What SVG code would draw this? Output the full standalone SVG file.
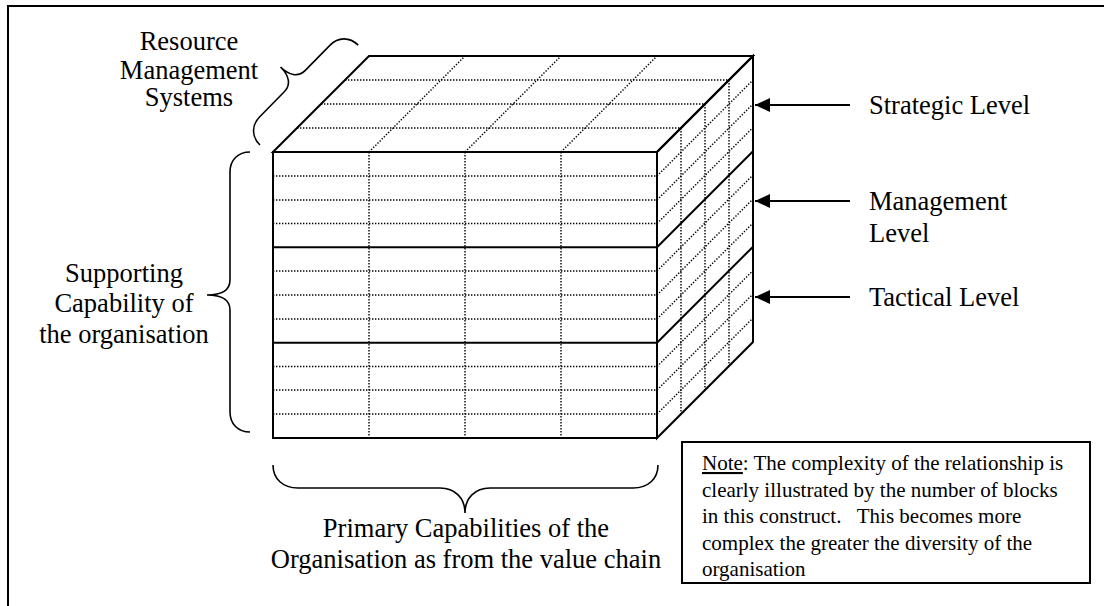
<svg xmlns="http://www.w3.org/2000/svg" width="1104" height="606" viewBox="0 0 1104 606">
<defs>
<style>
.solid{fill:none;stroke:#000;stroke-width:2;stroke-linejoin:miter}
.dot{fill:none;stroke:#000;stroke-width:1.4;stroke-dasharray:1.4 1.6}
.brace{fill:none;stroke:#000;stroke-width:1.6}
.lbl{font-family:"Liberation Serif","Times New Roman",serif;font-size:26.5px;fill:#000}
.note{font-family:"Liberation Serif","Times New Roman",serif;font-size:21px;fill:#000}
.arr{stroke:#000;stroke-width:2;fill:none}
</style>
<marker id="ah" viewBox="0 0 15 14" refX="15" refY="7" markerWidth="15" markerHeight="14" markerUnits="userSpaceOnUse" orient="auto">
<path d="M0,0 L15,7 L0,14 Z" fill="#000"/>
</marker>
</defs>
<rect width="1104" height="606" fill="#fff"/>
<g id="frame"><polyline class="solid" points="8,606 8,6 1104,6"/></g>

<g id="cube">
<line class="dot" x1="297" y1="128" x2="681" y2="128"/>
<line class="dot" x1="321" y1="104" x2="705" y2="104"/>
<line class="dot" x1="345" y1="80" x2="729" y2="80"/>
<line class="dot" x1="369" y1="152" x2="465" y2="56"/>
<line class="dot" x1="465" y1="152" x2="561" y2="56"/>
<line class="dot" x1="561" y1="152" x2="657" y2="56"/>
<line class="dot" x1="369" y1="152" x2="369" y2="438"/>
<line class="dot" x1="465" y1="152" x2="465" y2="438"/>
<line class="dot" x1="561" y1="152" x2="561" y2="438"/>
<line class="dot" x1="273" y1="176" x2="657" y2="176"/>
<line class="dot" x1="273" y1="200" x2="657" y2="200"/>
<line class="dot" x1="273" y1="223.5" x2="657" y2="223.5"/>
<line class="dot" x1="273" y1="271" x2="657" y2="271"/>
<line class="dot" x1="273" y1="295" x2="657" y2="295"/>
<line class="dot" x1="273" y1="319" x2="657" y2="319"/>
<line class="dot" x1="273" y1="366.5" x2="657" y2="366.5"/>
<line class="dot" x1="273" y1="390" x2="657" y2="390"/>
<line class="dot" x1="273" y1="414" x2="657" y2="414"/>
<line class="dot" x1="681" y1="128" x2="681" y2="414"/>
<line class="dot" x1="705" y1="104" x2="705" y2="390"/>
<line class="dot" x1="729" y1="80" x2="729" y2="366"/>
<line class="dot" x1="657" y1="176" x2="753" y2="80"/>
<line class="dot" x1="657" y1="200" x2="753" y2="104"/>
<line class="dot" x1="657" y1="223.5" x2="753" y2="127.5"/>
<line class="dot" x1="657" y1="271" x2="753" y2="175"/>
<line class="dot" x1="657" y1="295" x2="753" y2="199"/>
<line class="dot" x1="657" y1="319" x2="753" y2="223"/>
<line class="dot" x1="657" y1="366.5" x2="753" y2="270.5"/>
<line class="dot" x1="657" y1="390" x2="753" y2="294"/>
<line class="dot" x1="657" y1="414" x2="753" y2="318"/>
<polygon class="solid" points="273,152 369,56 753,56 657,152"/>
<polygon class="solid" points="657,152 753,56 753,342 657,438"/>
<rect class="solid" x="273" y="152" width="384" height="286"/>
<line class="solid" x1="273" y1="247.3" x2="657" y2="247.3"/>
<line class="solid" x1="273" y1="342.7" x2="657" y2="342.7"/>
<line class="solid" x1="657" y1="247.3" x2="753" y2="151.3"/>
<line class="solid" x1="657" y1="342.7" x2="753" y2="246.7"/>
</g>

<g id="brace-resource">
<path class="brace" transform="translate(260,145) rotate(-45.5)" d="M0,0 C0,-12 8,-20 20,-20 L55,-20 C65,-20 70,-28 70,-40 C70,-28 75,-20 85,-20 L120,-20 C132,-20 140,-12 140,0"/>
<text class="lbl" text-anchor="middle"><tspan x="189" y="49.5">Resource</tspan><tspan x="189" y="78.5">Management</tspan><tspan x="189" y="106">Systems</tspan></text>
</g>

<g id="brace-supporting">
<path class="brace" d="M250,152 C238,152 230,160 230,172 L230,280 C230,290 222,295 207,295 C222,295 230,300 230,310 L230,412 C230,424 238,432 250,432"/>
<text class="lbl" text-anchor="middle"><tspan x="124" y="282">Supporting</tspan><tspan x="124" y="312">Capability of</tspan><tspan x="124" y="343">the organisation</tspan></text>
</g>

<g id="brace-primary">
<path class="brace" d="M273,465 C273,479 283,488 298,488 L440,488 C455,488 465,498 465,513 C465,498 475,488 490,488 L633,488 C648,488 658,479 658,465"/>
<text class="lbl" text-anchor="middle"><tspan x="466" y="537">Primary Capabilities of the</tspan><tspan x="466" y="568">Organisation as from the value chain</tspan></text>
</g>

<g id="label-strategic"><text class="lbl" x="869" y="114">Strategic Level</text></g>
<g id="label-management"><text class="lbl"><tspan x="869" y="210">Management</tspan><tspan x="869" y="241.5">Level</tspan></text></g>
<g id="label-tactical"><text class="lbl" x="869" y="306">Tactical Level</text></g>

<g id="connectors">
<line class="arr" x1="850" y1="105" x2="755" y2="105" marker-end="url(#ah)"/>
<line class="arr" x1="850" y1="201" x2="755" y2="201" marker-end="url(#ah)"/>
<line class="arr" x1="850" y1="297" x2="755" y2="297" marker-end="url(#ah)"/>
</g>

<g id="note">
<rect x="682" y="442" width="408" height="141" fill="#fff" stroke="#000" stroke-width="2"/>
<text class="note"><tspan x="702" y="470" text-decoration="underline">Note</tspan><tspan>: The complexity of the relationship is</tspan><tspan x="702" y="496.5">clearly illustrated by the number of blocks</tspan><tspan x="702" y="523" xml:space="preserve">in this construct.   This becomes more</tspan><tspan x="702" y="549.5">complex the greater the diversity of the</tspan><tspan x="702" y="576">organisation</tspan></text>
</g>
</svg>
